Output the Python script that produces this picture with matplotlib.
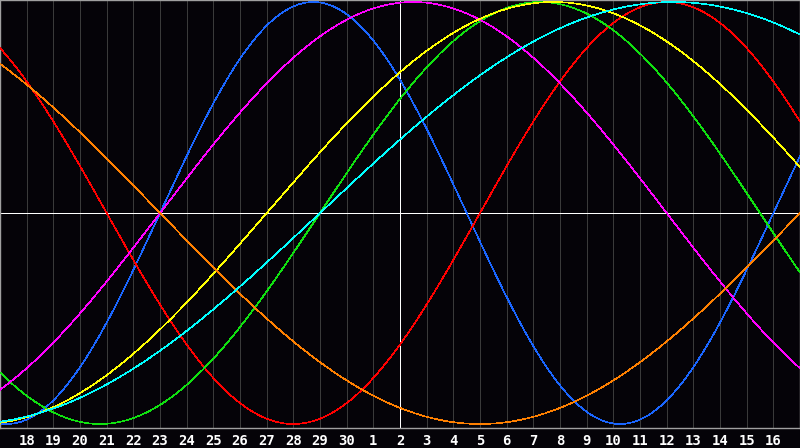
import numpy as np
import matplotlib
matplotlib.use("Agg")
import matplotlib.pyplot as plt

# Day labels shown under the chart (offsets -14 .. 14 around the centre day)
day_labels = ["18", "19", "20", "21", "22", "23", "24", "25", "26", "27", "28", "29", "30",
              "1", "2", "3", "4", "5", "6", "7", "8", "9", "10", "11", "12", "13", "14", "15", "16"]
day_offsets = list(range(-14, 15))

# Biorhythm cycles: period (days) and day offset of the rising zero crossing
cycle_names = ["physical", "emotional", "intellectual", "intuitive", "aesthetic", "awareness", "spiritual"]
periods = [23, 28, 33, 38, 43, 48, 53]
rise_zero = [-9, 3, -3, -9, -5, 15, -3]
colors = ["#1a66ff", "#ff0000", "#10e010", "#ff00ff", "#ffff00", "#ff8000", "#00ffff"]

bg = "#050308"
fig = plt.figure(figsize=(8, 4.48), dpi=100, facecolor=bg)
ax = fig.add_axes([0, 20 / 448, 1, 428 / 448])
ax.set_facecolor(bg)

x_lo, x_hi = -15, 15
ax.set_xlim(x_lo, x_hi)
ax.set_ylim(-(428 - 213) / 211, 213 / 211)

# vertical day grid
for d in day_offsets:
    if d == 0:
        continue
    ax.axvline(d, color="#3a3a3a", lw=0.72, snap=True, zorder=1)

t = np.linspace(x_lo, x_hi, 1600)
for p, z, c in zip(periods, rise_zero, colors):
    ax.plot(t, np.sin(2 * np.pi * (t - z) / p), color=c, lw=0.45, antialiased=False, zorder=3)

ax.axhline(0, color="white", lw=0.72, snap=True, zorder=2)
ax.axvline(0, color="white", lw=0.72, snap=True, zorder=2)

ax.set_xticks(day_offsets)
ax.set_xticklabels(day_labels)
ax.set_yticks([])
ax.tick_params(axis="x", length=0, pad=4, colors="white", labelsize=10)
for lab in ax.get_xticklabels():
    lab.set_fontfamily("DejaVu Sans Mono")
    lab.set_fontweight("bold")

for s in ax.spines.values():
    s.set_color("#a0a0a0")
    s.set_linewidth(1.0)

fig.savefig("out.png", dpi=100, facecolor=bg)
